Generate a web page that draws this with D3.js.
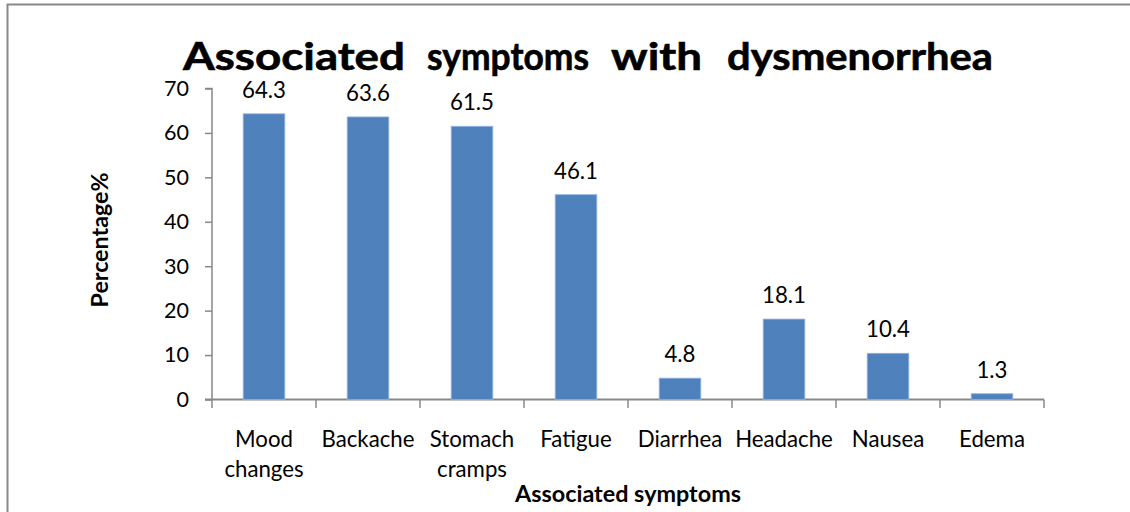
<!DOCTYPE html>
<html><head><meta charset="utf-8">
<script src="https://cdn.jsdelivr.net/npm/d3@7"></script>
<style>body{margin:0;background:#fff}svg{display:block}</style>
</head><body>
<script>
const categories = ["Mood changes","Backache","Stomach cramps","Fatigue","Diarrhea","Headache","Nausea","Edema"];
const values = [64.3,63.6,61.5,46.1,4.8,18.1,10.4,1.3];
const yTicks = [0,10,20,30,40,50,60,70];
const labelLines = [["Mood","changes"],["Backache"],["Stomach","cramps"],["Fatigue"],["Diarrhea"],["Headache"],["Nausea"],["Edema"]];
const titleWords = ["Associated","symptoms","with","dysmenorrhea"];
const titleWordX = [183,427,611,727];
const titleWordW = [222,162,91,266];

const W=1130,H=512;
const font = "Lato, 'Open Sans', sans-serif";
const svg = d3.select("body").append("svg").attr("width",W).attr("height",H);

// font size that makes `str` reach `target` px wide
function fitSize(str, target, weight){
  const t = svg.append("text").attr("font-family",font).attr("font-weight",weight||"normal").attr("font-size",100).text(str);
  const w = t.node().getComputedTextLength(); t.remove();
  return 100*target/w;
}
const tickFs = fitSize("70",25);
const valFs = fitSize("64.3",44);
const catFs = fitSize("Backache",93);
const axFs = fitSize("Associated symptoms",226,"bold");
const yTitleFs = fitSize("Percentage%",135,"bold");

// chart border
svg.append("path").attr("d","M7.5,512 L7.5,4.5 L1130,4.5").attr("fill","none").attr("stroke","#888").attr("stroke-width",2);

const x = d3.scaleBand().domain(categories).range([212,1044]).paddingInner(0.6).paddingOuter(0.3);
const y = d3.scaleLinear().domain([0,70]).range([399.5,88.5]);

const gy = svg.append("g").attr("transform","translate(212,0)")
  .call(d3.axisLeft(y).tickValues(yTicks).tickSize(7).tickPadding(16));
gy.select(".domain").attr("stroke","#888").attr("stroke-width",1.5).attr("d","M0,88.5H-7H0V399.5");
gy.selectAll("line").attr("stroke","#888").attr("stroke-width",1.5);
gy.selectAll("text").attr("font-family",font).attr("font-size",tickFs).attr("fill","#000");

// x axis
const xg = svg.append("g");
xg.append("line").attr("x1",212-7).attr("x2",1044).attr("y1",399.5).attr("y2",399.5).attr("stroke","#888").attr("stroke-width",2);
const edges = categories.map(c=>x(c)-x.step()*x.paddingInner()/2).concat([1044]);
xg.selectAll(".t").data(edges).join("line").attr("x1",d=>d).attr("x2",d=>d).attr("y1",399.5).attr("y2",408).attr("stroke","#888").attr("stroke-width",1.5);

svg.selectAll(".bar").data(values).join("rect")
  .attr("x",(d,i)=>x(categories[i])).attr("width",x.bandwidth())
  .attr("y",d=>y(d)).attr("height",d=>y(0)-y(d))
  .attr("fill","#4F81BD").attr("stroke","#8EB4E3").attr("stroke-width",0.8);

svg.selectAll(".vl").data(values).join("text")
  .attr("x",(d,i)=>x(categories[i])+x.bandwidth()/2).attr("y",d=>y(d)-16)
  .attr("text-anchor","middle").attr("font-family",font).attr("font-size",valFs).text(d=>d);

const cl = svg.selectAll(".cl").data(labelLines).join("text")
  .attr("text-anchor","middle").attr("font-family",font).attr("font-size",catFs);
cl.each(function(lines,i){
  const cx = x(categories[i])+x.bandwidth()/2;
  d3.select(this).selectAll("tspan").data(lines).join("tspan")
    .attr("x",cx).attr("y",(d,j)=>447+j*30).text(d=>d);
});

svg.append("g").selectAll("text").data(titleWords).join("text")
  .attr("x",(d,i)=>titleWordX[i]).attr("y",70)
  .attr("font-family",font).attr("font-weight","bold").attr("font-size",38)
  .attr("stroke","#000").attr("stroke-width",0.6)
  .attr("textLength",(d,i)=>titleWordW[i]).attr("lengthAdjust","spacingAndGlyphs")
  .text(d=>d);

svg.append("text").attr("x",628).attr("y",502).attr("text-anchor","middle")
  .attr("font-family",font).attr("font-weight","bold").attr("font-size",axFs).text("Associated symptoms");

svg.append("text").attr("transform","translate(108,240) rotate(-90)").attr("text-anchor","middle")
  .attr("font-family",font).attr("font-weight","bold").attr("font-size",yTitleFs).text("Percentage%");
</script>
</body></html>
